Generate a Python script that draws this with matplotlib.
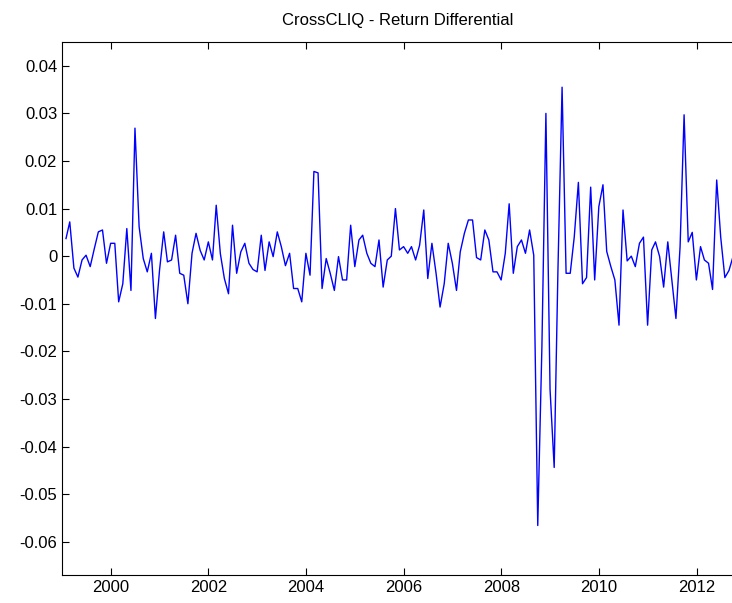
import pandas as pd
import matplotlib
matplotlib.use('Agg')
import matplotlib.pyplot as plt
import matplotlib.dates as mdates
from matplotlib.ticker import FuncFormatter

# Monthly return differential, Jan 1999 - Sep 2012
dates = pd.date_range('1999-01-31', '2012-09-30', freq='ME')
ret_diff = [
    0.0037, 0.0072, -0.0025, -0.0044, -0.0008, 0.0002, -0.0022, 0.0016, 0.0051, 0.0055,
    -0.0015, 0.0027, 0.0027, -0.0096, -0.0058, 0.0058, -0.0072, 0.0269, 0.0062, -0.0005,
    -0.0033, 0.0006, -0.0131, -0.0029, 0.0051, -0.0012, -0.0008, 0.0044, -0.0036, -0.0040,
    -0.0100, 0.0006, 0.0048, 0.0012, -0.0008, 0.0030, -0.0008, 0.0107, 0.0005, -0.0047,
    -0.0079, 0.0065, -0.0036, 0.0009, 0.0027, -0.0015, -0.0028, -0.0033, 0.0044, -0.0030,
    0.0030, -0.0001, 0.0051, 0.0020, -0.0020, 0.0006, -0.0068, -0.0068, -0.0096, 0.0006,
    -0.0040, 0.0178, 0.0175, -0.0068, -0.0005, -0.0036, -0.0072, -0.0001, -0.0050, -0.0050,
    0.0065, -0.0022, 0.0034, 0.0044, 0.0006, -0.0015, -0.0022, 0.0034, -0.0065, -0.0008,
    0.0000, 0.0100, 0.0013, 0.0020, 0.0006, 0.0020, -0.0008, 0.0023, 0.0097, -0.0047,
    0.0027, -0.0036, -0.0107, -0.0058, 0.0027, -0.0015, -0.0072, 0.0009, 0.0048, 0.0076,
    0.0076, -0.0003, -0.0008, 0.0055, 0.0034, -0.0033, -0.0033, -0.0050, 0.0006, 0.0110,
    -0.0036, 0.0020, 0.0034, 0.0006, 0.0055, 0.0002, -0.0566, -0.0191, 0.0300, -0.0280,
    -0.0444, -0.0030, 0.0355, -0.0036, -0.0036, 0.0040, 0.0155, -0.0058, -0.0045, 0.0145,
    -0.0050, 0.0104, 0.0150, 0.0010, -0.0022, -0.0050, -0.0145, 0.0097, -0.0010, 0.0000,
    -0.0022, 0.0027, 0.0040, -0.0145, 0.0013, 0.0030, -0.0001, -0.0065, 0.0030, -0.0050,
    -0.0131, 0.0020, 0.0297, 0.0030, 0.0050, -0.0050, 0.0020, -0.0008, -0.0015, -0.0070,
    0.0160, 0.0040, -0.0045, -0.0030, -0.0001,
]
y_ticks = [-0.06, -0.05, -0.04, -0.03, -0.02, -0.01, 0, 0.01, 0.02, 0.03, 0.04]

plt.rcParams['font.family'] = ['Liberation Sans', 'DejaVu Sans']

fig = plt.figure(figsize=(7.32, 6.03), dpi=100)
ax = fig.add_axes([62 / 732, 28 / 603, 671 / 732, 533 / 603])

ax.plot(dates, ret_diff, color='#0000ff', linewidth=1.0)

ax.set_xlim(pd.Timestamp('1999-01-01'), pd.Timestamp('2012-09-30'))
ax.set_ylim(-0.067, 0.045)
ax.set_yticks(y_ticks)
ax.yaxis.set_major_formatter(FuncFormatter(lambda v, p: '%g' % round(v, 4)))
ax.xaxis.set_major_locator(mdates.YearLocator(2))
ax.xaxis.set_major_formatter(mdates.DateFormatter('%Y'))

# right side of the box is cut off in the original image
ax.tick_params(direction='in', length=5, width=0.8, top=True, right=False, labelsize=12)
for s in ax.spines.values():
    s.set_linewidth(0.8)

ax.set_title('CrossCLIQ - Return Differential', fontsize=12, pad=12)

fig.savefig('out.png', dpi=100)
